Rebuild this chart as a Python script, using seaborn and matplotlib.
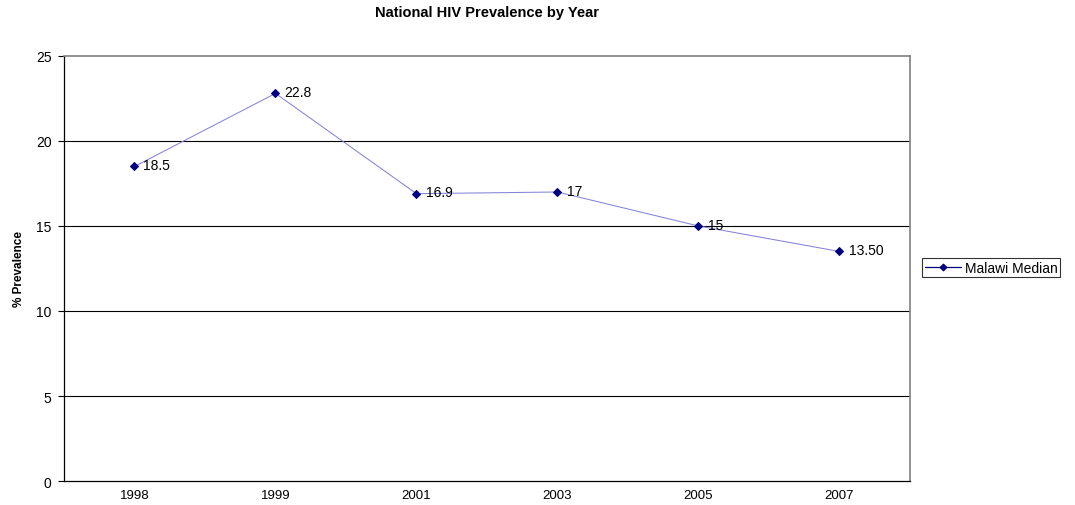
import matplotlib
matplotlib.use("Agg")
import matplotlib.pyplot as plt
import seaborn as sns
import pandas as pd
import numpy as np

years = ["1998", "1999", "2001", "2003", "2005", "2007"]
prevalence = [18.5, 22.8, 16.9, 17.0, 15.0, 13.5]
value_labels = ["18.5", "22.8", "16.9", "17", "15", "13.50"]
y_ticks = [0, 5, 10, 15, 20, 25]

sns.set_style("white")
plt.rcParams["font.family"] = ["Liberation Sans", "DejaVu Sans"]
plt.rcParams["text.color"] = "black"
plt.rcParams["axes.labelcolor"] = "black"
plt.rcParams["xtick.color"] = "black"
plt.rcParams["ytick.color"] = "black"

df = pd.DataFrame({"pos": np.arange(len(years)), "year": years, "prev": prevalence})

fig = plt.figure(figsize=(10.75, 5.06), dpi=100)
ax = fig.add_axes([0.0595, 0.0474, 0.7870, 0.8400])

sns.lineplot(data=df, x="pos", y="prev", ax=ax, color="#8484d8", linewidth=0.75,
             marker="D", markersize=4.2, markerfacecolor="#000080",
             markeredgecolor="#000080", label="Malawi Median")

for x, y, t in zip(df["pos"], df["prev"], value_labels):
    ax.annotate(t, (x, y), xytext=(6.5, 1), textcoords="offset points",
                va="center", ha="left", fontsize=10, color="black")

ax.set_xlim(-0.5, len(years) - 0.5)
ax.set_ylim(0, 25)
ax.set_yticks(y_ticks)
ax.set_xticks(np.arange(len(years)))
ax.set_xticklabels(years)
ax.set_xticks(np.arange(-0.5, len(years)), minor=True)
ax.tick_params(axis="x", which="major", length=0, labelsize=9.5, pad=6)
ax.tick_params(axis="x", which="minor", length=4, direction="out", width=0.8, color="black")
ax.tick_params(axis="y", length=4, direction="out", width=0.8, labelsize=10, left=True, pad=5)

for yv in y_ticks[1:-1]:
    ax.axhline(yv, color="black", linewidth=0.8, zorder=0)

for side in ["top", "right"]:
    ax.spines[side].set_color("#808080")
    ax.spines[side].set_linewidth(1.2)
ax.spines["left"].set_color("black")
ax.spines["bottom"].set_color("black")
ax.spines["left"].set_linewidth(0.9)
ax.spines["bottom"].set_linewidth(0.9)

ax.set_xlabel("")
ax.set_ylabel("% Prevalence", fontsize=8.5, fontweight="bold", labelpad=8)
ax.set_title("National HIV Prevalence by Year", fontsize=10.5, fontweight="bold", pad=29)

leg = ax.legend(loc="center left", bbox_to_anchor=(1.014, 0.502), frameon=True,
                fontsize=10, fancybox=False, borderpad=0.2, handlelength=2.6,
                handletextpad=0.3, borderaxespad=0)
leg.get_frame().set_edgecolor("black")
leg.get_frame().set_linewidth(0.8)
for h in leg.get_lines():
    h.set_color("#000080")
    h.set_linewidth(0.9)
    h.set_markersize(3.5)

fig.savefig("out.png", dpi=100)
